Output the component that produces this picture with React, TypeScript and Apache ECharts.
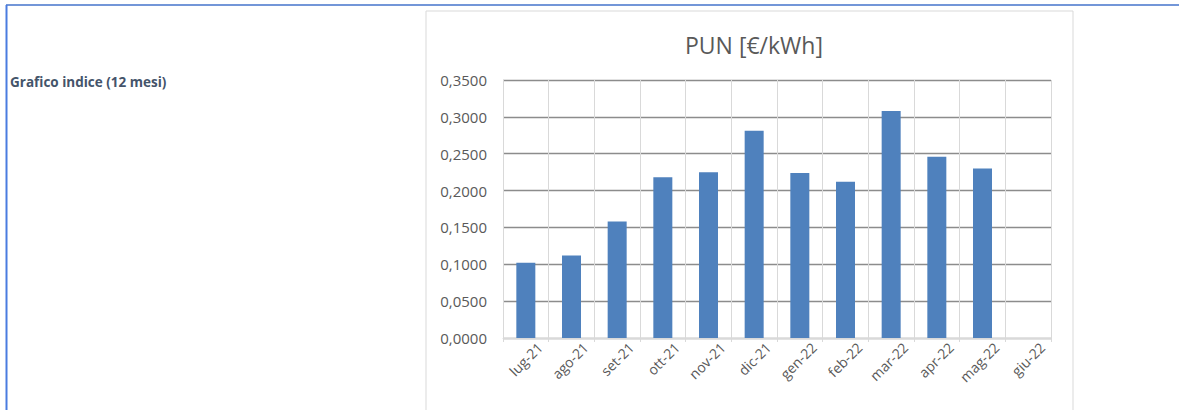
import React, { useEffect, useRef } from "react";
import * as echarts from "echarts";

const categories = ["lug-21", "ago-21", "set-21", "ott-21", "nov-21", "dic-21", "gen-22", "feb-22", "mar-22", "apr-22", "mag-22", "giu-22"];
const punValues: (number | null)[] = [0.102, 0.112, 0.158, 0.218, 0.225, 0.281, 0.224, 0.212, 0.308, 0.246, 0.23, null];
const yTicks = { min: 0, max: 0.35, interval: 0.05 };
const chartTitle = "PUN [€/kWh]";
const sideLabel = "Grafico indice (12 mesi)";

export default function App() {
  const ref = useRef<HTMLDivElement>(null);
  useEffect(() => {
    if (!ref.current) return;
    const chart = echarts.init(ref.current, null, { renderer: "svg" });
    const font = "'Open Sans', 'Noto Sans', sans-serif";
    chart.setOption({
      animation: false,
      backgroundColor: "#ffffff",
      title: {
        text: chartTitle,
        left: 749,
        top: 28,
        textAlign: "center",
        textStyle: { fontFamily: font, fontSize: 23, fontWeight: "normal", color: "#595959" },
      },
      grid: { left: 503, top: 80, width: 548, height: 258, containLabel: false },
      xAxis: {
        type: "category",
        data: categories,
        boundaryGap: true,
        axisLine: { show: true, lineStyle: { color: "#d9d9d9", width: 1 } },
        axisTick: { show: true, length: 4, alignWithLabel: false, lineStyle: { color: "#d9d9d9" } },
        splitLine: { show: true, lineStyle: { color: "#d9d9d9", width: 1 } },
        axisLabel: {
          interval: 0,
          rotate: 45,
          margin: 21,
          fontFamily: font,
          fontSize: 14,
          color: "#595959",
          padding: [0, -20, 0, 0],
        },
      },
      yAxis: {
        type: "value",
        min: yTicks.min,
        max: yTicks.max,
        interval: yTicks.interval,
        axisLine: { show: false },
        axisTick: { show: false },
        splitLine: { show: true, lineStyle: { color: "#8c8c8c", width: 1.3 } },
        axisLabel: {
          margin: 16,
          fontFamily: font,
          fontSize: 15,
          color: "#595959",
          formatter: (v: number) => v.toFixed(4).replace(".", ","),
        },
      },
      series: [
        {
          type: "bar",
          data: punValues,
          barWidth: 19,
          itemStyle: { color: "#4f81bd" },
          z: 3,
        },
      ],
      graphic: [
        {
          type: "rect",
          shape: { x: 426, y: 11, width: 647, height: 420 },
          style: { fill: "none", stroke: "#d9d9d9", lineWidth: 1 },
          z: -1,
          silent: true,
        },
        {
          type: "line",
          shape: { x1: 6, y1: 5, x2: 1179, y2: 5 },
          style: { stroke: "#7396d8", lineWidth: 2 },
          silent: true,
        },
        {
          type: "line",
          shape: { x1: 6.5, y1: 5, x2: 6.5, y2: 410 },
          style: { stroke: "#4a7ce0", lineWidth: 2 },
          silent: true,
        },
        {
          type: "text",
          x: 10,
          y: 82,
          style: {
            text: sideLabel,
            fontFamily: font,
            fontSize: 13.5,
            fontWeight: "bold",
            fill: "#44546a",
            verticalAlign: "middle",
          },
          silent: true,
        },
      ],
    });
    return () => chart.dispose();
  }, []);
  return (
    <div style={{ position: "fixed", left: 0, top: 0, width: 1179, height: 410 }}>
      <div ref={ref} style={{ width: 1179, height: 410 }} />
    </div>
  );
}
